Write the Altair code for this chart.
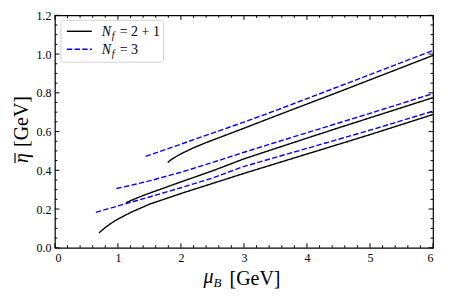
import altair as alt
import pandas as pd

SERIF = "Liberation Serif"

# ---- data ----
# N_f = 2+1 (black solid)
k1_mu = [1.79, 1.85, 1.95, 2.05, 2.2, 2.4, 2.7, 3.0, 3.5, 4.0, 4.5, 5.0, 6.0]
k1_eta = [0.44, 0.456, 0.476, 0.493, 0.516, 0.543, 0.58, 0.617, 0.68, 0.742, 0.804, 0.867, 0.993]
k2_mu = [1.13, 1.2, 1.4, 1.7, 2.0, 2.5, 3.0, 4.0, 4.5, 5.0, 6.0]
k2_eta = [0.233, 0.243, 0.27, 0.305, 0.34, 0.397, 0.459, 0.566, 0.619, 0.671, 0.775]
k3_mu = [0.70, 0.8, 0.9, 1.0, 1.2, 1.5, 2.0, 2.5, 3.0, 4.0, 4.5, 5.0, 6.0]
k3_eta = [0.077, 0.105, 0.128, 0.148, 0.182, 0.225, 0.28, 0.332, 0.384, 0.484, 0.534, 0.584, 0.688]
# N_f = 3 (blue dashed)
b1_mu = [1.44, 2.0, 2.5, 3.0, 3.5, 4.0, 4.5, 5.0, 6.0]
b1_eta = [0.472, 0.535, 0.592, 0.649, 0.708, 0.77, 0.832, 0.894, 1.019]
b2_mu = [0.976, 1.2, 1.5, 2.0, 2.5, 3.0, 4.0, 4.5, 5.0, 6.0]
b2_eta = [0.306, 0.322, 0.345, 0.39, 0.44, 0.493, 0.594, 0.644, 0.694, 0.796]
b3_mu = [0.65, 1.0, 1.5, 2.0, 2.5, 3.0, 4.0, 4.5, 5.0, 6.0]
b3_eta = [0.183, 0.216, 0.262, 0.31, 0.36, 0.42, 0.513, 0.56, 0.607, 0.705]

x_major = [0, 1, 2, 3, 4, 5, 6]
x_minor = [0.2, 0.4, 0.6, 0.8, 1.2, 1.4, 1.6, 1.8, 2.2, 2.4, 2.6, 2.8, 3.2, 3.4, 3.6, 3.8,
           4.2, 4.4, 4.6, 4.8, 5.2, 5.4, 5.6, 5.8]
y_major = [0.0, 0.2, 0.4, 0.6, 0.8, 1.0, 1.2]
y_minor = [0.05, 0.1, 0.15, 0.25, 0.3, 0.35, 0.45, 0.5, 0.55, 0.65, 0.7, 0.75,
           0.85, 0.9, 0.95, 1.05, 1.1, 1.15]

rows = []
for name, nf, mus, etas in [("k1", "2+1", k1_mu, k1_eta), ("k2", "2+1", k2_mu, k2_eta),
                            ("k3", "2+1", k3_mu, k3_eta), ("b1", "3", b1_mu, b1_eta),
                            ("b2", "3", b2_mu, b2_eta), ("b3", "3", b3_mu, b3_eta)]:
    for i, (m, e) in enumerate(zip(mus, etas)):
        rows.append(dict(curve=name, nf=nf, mu=m, eta=e, order=i))
df = pd.DataFrame(rows)

W, H = 379, 233
xs = alt.Scale(domain=[0, 6], nice=False, zero=False)
ys = alt.Scale(domain=[0, 1.2], nice=False, zero=False)
xaxis = alt.Axis(values=x_major, format="d", ticks=False, domain=False, grid=False,
                 labelFont=SERIF, labelFontSize=12, labelColor="black", labelPadding=5, title=None)
yaxis = alt.Axis(values=y_major, format=".1f", ticks=False, domain=False, grid=False,
                 labelFont=SERIF, labelFontSize=12, labelColor="black", labelPadding=4, title=None)

lines = alt.Chart(df).mark_line(strokeWidth=1.4, clip=True).encode(
    x=alt.X("mu:Q", scale=xs, axis=xaxis),
    y=alt.Y("eta:Q", scale=ys, axis=yaxis),
    color=alt.Color("nf:N", scale=alt.Scale(domain=["2+1", "3"], range=["black", "#0000ff"]), legend=None),
    strokeDash=alt.StrokeDash("nf:N", scale=alt.Scale(domain=["2+1", "3"], range=[[1, 0], [5.4, 2.3]]),
                              legend=None),
    detail="curve:N",
    order="order:Q",
)

def xticks(vals, length):
    d = pd.DataFrame({"v": vals})
    bot = alt.Chart(d).mark_rule(color="black", strokeWidth=1).encode(
        x=alt.X("v:Q", scale=xs, axis=xaxis), y=alt.value(H), y2=alt.value(H - length))
    top = alt.Chart(d).mark_rule(color="black", strokeWidth=1).encode(
        x=alt.X("v:Q", scale=xs, axis=xaxis), y=alt.value(0), y2=alt.value(length))
    return [bot, top]

def yticks(vals, length):
    d = pd.DataFrame({"v": vals})
    left = alt.Chart(d).mark_rule(color="black", strokeWidth=1).encode(
        y=alt.Y("v:Q", scale=ys, axis=yaxis), x=alt.value(0), x2=alt.value(length))
    right = alt.Chart(d).mark_rule(color="black", strokeWidth=1).encode(
        y=alt.Y("v:Q", scale=ys, axis=yaxis), x=alt.value(W), x2=alt.value(W - length))
    return [left, right]

ticks = xticks(x_major, 4.5) + xticks(x_minor, 2.5) + yticks(y_major, 4.5) + yticks(y_minor, 2.5)

one = pd.DataFrame({"a": [0]})

# legend
leg_box = alt.Chart(one).mark_rect(fill="white", fillOpacity=0.8, stroke="#d0d0d0", strokeWidth=1,
                                   cornerRadius=3).encode(
    x=alt.value(6), x2=alt.value(109), y=alt.value(5), y2=alt.value(47))
leg_l1 = alt.Chart(one).mark_rule(color="black", strokeWidth=1.4).encode(
    x=alt.value(12), x2=alt.value(37), y=alt.value(16))
leg_l2 = alt.Chart(one).mark_rule(color="#0000ff", strokeWidth=1.4, strokeDash=[5.4, 2.3]).encode(
    x=alt.value(12), x2=alt.value(37), y=alt.value(34))

def txt(s, x, y, size, style="normal", angle=0, align="left", baseline="alphabetic"):
    return alt.Chart(one).mark_text(text=s, font=SERIF, fontSize=size, fontStyle=style, color="black",
                                    align=align, baseline=baseline, angle=angle).encode(
        x=alt.value(x), y=alt.value(y))

legend = [leg_box, leg_l1, leg_l2,
          txt("N", 47, 21, 14, "italic"), txt("f", 57, 24, 10, "italic"), txt("= 2 + 1", 65, 21, 14),
          txt("N", 47, 39, 14, "italic"), txt("f", 57, 42, 10, "italic"), txt("= 3", 65, 39, 14)]

macron = alt.Chart(one).mark_rule(color="black", strokeWidth=1.2).encode(
    x=alt.value(-40), y=alt.value(138), y2=alt.value(148))
titles = [txt("μ", 149, 268, 20, "italic"), txt("B", 159, 272, 13, "italic"), txt("[GeV]", 175, 270, 20),
          txt("[GeV]", -27, 132, 20, angle=270, align="left"),
          txt("η", -27, 143, 20, "italic", angle=270, align="center"), macron]

chart = alt.layer(lines, *ticks, *legend, *titles).properties(
    width=W, height=H,
    padding={"left": 47, "top": 7, "right": 8, "bottom": 45},
    autosize=alt.AutoSizeParams(type="none"),
).configure_view(stroke="black", strokeWidth=1.2)

chart.save("out.html", embed_options={"renderer": "svg", "actions": False})
